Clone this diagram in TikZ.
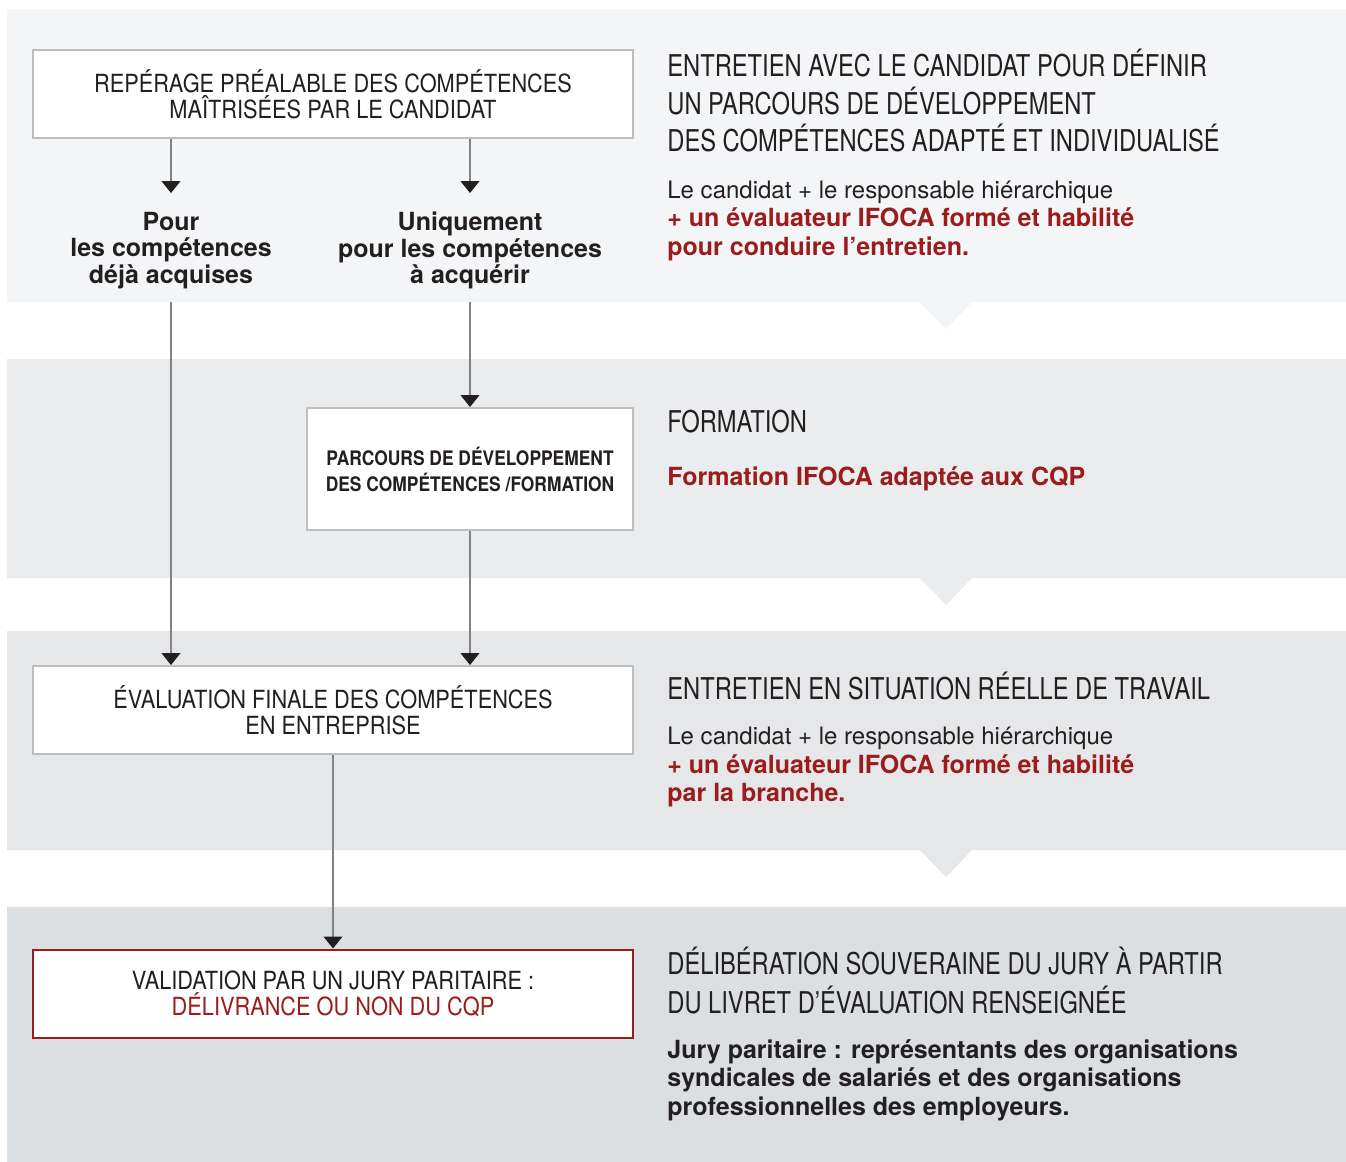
\documentclass[tikz,border=0pt]{standalone}
\usepackage{fontspec}
\setmainfont{TeX Gyre Heros}
\newfontfamily\headfont[FakeStretch=0.79]{TeX Gyre Heros}
\newfontfamily\boxfont[FakeStretch=0.87]{TeX Gyre Heros}
\usetikzlibrary{arrows.meta}
\definecolor{bandA}{HTML}{F4F5F7}
\definecolor{bandB}{HTML}{EBECEE}
\definecolor{bandC}{HTML}{E6E7E9}
\definecolor{bandD}{HTML}{DCDFE2}
\definecolor{boxline}{HTML}{BCBEC0}
\definecolor{flowline}{HTML}{808285}
\definecolor{ink}{HTML}{231F20}
\definecolor{ifred}{HTML}{9B1C1C}
\newcommand\redbold[1]{{\color{ifred}\bfseries\fontsize{12.5}{14.25}\selectfont #1}}

\begin{document}
\begin{tikzpicture}[x=0.5pt, y=-0.5pt,
    box/.style={draw=boxline, line width=1pt, fill=white, inner sep=0pt, align=center, text=ink,
      minimum width=300pt, minimum height=44pt, font=\boxfont\fontsize{12.5}{13}\selectfont},
    flow/.style={draw=flowline, line width=0.6pt, -{Triangle[width=9.5pt,length=6pt,color=ink]}},
    head/.style={anchor=base west, align=left, inner sep=0pt, text=ink,
      font=\headfont\fontsize{15}{18.75}\selectfont},
    note/.style={anchor=base west, align=left, inner sep=0pt, text=ink,
      font=\fontsize{12}{14.25}\selectfont},
    choice/.style={align=center, inner sep=0pt, text=ink, font=\bfseries\fontsize{12.5}{13.25}\selectfont}]
  \useasboundingbox[fill=white] (0,0) rectangle (1346,1162);

  % background bands with their notches
  \foreach \top/\bot/\col in {9/302/bandA, 359/578/bandB, 631/850/bandC}
    \fill[\col] (7,\top) rectangle (1346,\bot)
      (920,\bot) -- (946,\bot+27) -- (972,\bot) -- cycle;
  \fill[bandD] (7,907) rectangle (1346,1162);
  \coordinate (split) at (0,302);

  % left column
  \node[box] (spot) at (333,94) {REPÉRAGE PRÉALABLE DES COMPÉTENCES\\MAÎTRISÉES PAR LE CANDIDAT};
  \coordinate (spotL) at (171,193);
  \coordinate (spotR) at (470,193);
  \draw[flow] (spot.south -| spotL) -- (spotL);
  \draw[flow] (spot.south -| spotR) -- (spotR);
  \node[choice] (held) at (171,250.5) {Pour\\les compétences\\déjà acquises};
  \node[choice] (gain) at (470,250.5) {Uniquement\\pour les compétences\\à acquérir};
  \node[box, minimum width=163pt, minimum height=61pt,
    font=\boxfont\bfseries\fontsize{10}{13}\selectfont] (course) at (470,469)
    {PARCOURS DE DÉVELOPPEMENT\\DES COMPÉTENCES /FORMATION};
  \node[box] (final) at (333,710) {ÉVALUATION FINALE DES COMPÉTENCES\\EN ENTREPRISE};
  \node[box, draw=ifred] (jury) at (333,993.5)
    {VALIDATION PAR UN JURY PARITAIRE :\\\textcolor{ifred}{DÉLIVRANCE OU NON DU CQP}};

  \draw[flow] (gain.south |- split) -- (course.north);
  \draw[flow] (held.south |- split) -- (held.south |- final.north);
  \draw[flow] (course.south) -- (course.south |- final.north);
  \draw[flow] (final.south) -- (jury.north);

  % right column (each text sits on the baseline of its last line)
  \node[head] (h1) at (667,151.7) {ENTRETIEN AVEC LE CANDIDAT POUR DÉFINIR\\UN PARCOURS DE DÉVELOPPEMENT\\DES COMPÉTENCES ADAPTÉ ET INDIVIDUALISÉ};
  \node[note] (n1) at (667,255) {Le candidat + le responsable hiérarchique\\\redbold{+ un évaluateur IFOCA formé et habilité}\\\redbold{pour conduire l’entretien.}};
  \node[head] (h2) at (667,432) {FORMATION};
  \node[note] (n2) at (667,485) {\redbold{Formation IFOCA adaptée aux CQP}};
  \node[head] (h3) at (667,699) {ENTRETIEN EN SITUATION RÉELLE DE TRAVAIL};
  \node[note] (n3) at (667,801.5) {Le candidat + le responsable hiérarchique\\\redbold{+ un évaluateur IFOCA formé et habilité}\\\redbold{par la branche.}};
  \node[head, font=\headfont\fontsize{15}{19.5}\selectfont] (h4) at (667,1013.3)
    {DÉLIBÉRATION SOUVERAINE DU JURY À PARTIR\\DU LIVRET D’ÉVALUATION RENSEIGNÉE};
  \node[note, font=\bfseries\fontsize{12.5}{14.25}\selectfont] (n4) at (667,1115)
    {Jury paritaire : représentants des organisations\\syndicales de salariés et des organisations\\professionnelles des employeurs.};
\end{tikzpicture}
\end{document}
